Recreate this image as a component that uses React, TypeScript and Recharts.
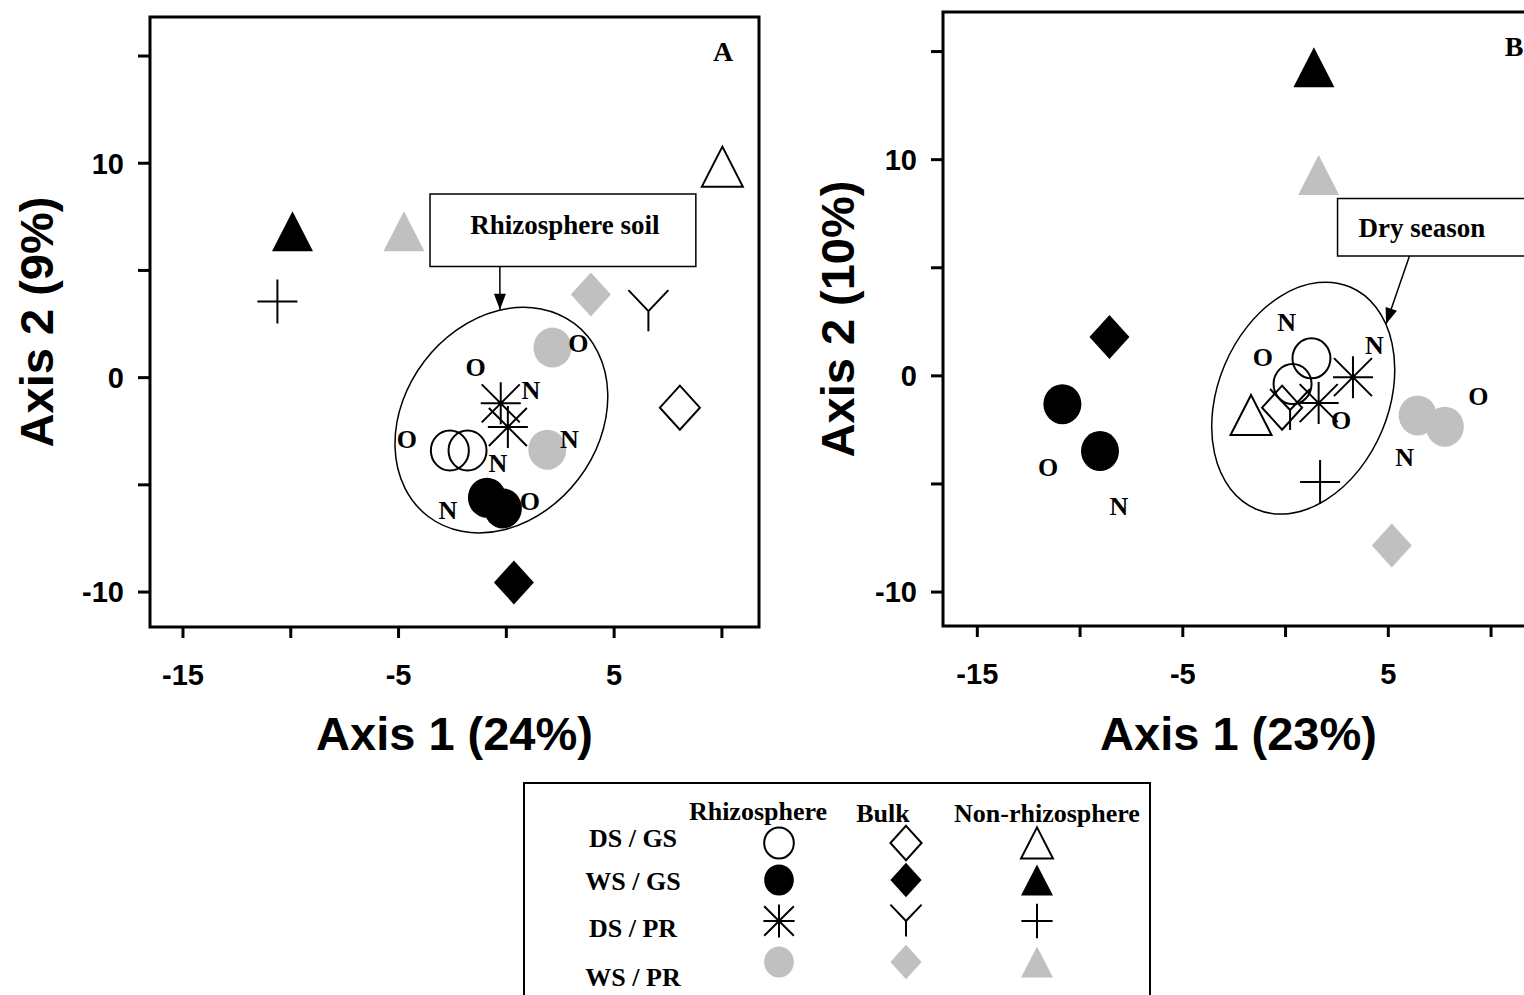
import React from 'react';
import { ScatterChart, Scatter, XAxis, YAxis, ReferenceArea, ReferenceLine, ReferenceDot } from 'recharts';

type Pt = { x: number; y: number };
type Lbl = { x: number; y: number; t: string };

const GREY = '#c0c0c0';
const SERIF = '"Liberation Serif", "Times New Roman", serif';
const SANS = '"Liberation Sans", Arial, sans-serif';

// ticks
const xTicks = [-15, -10, -5, 0, 5, 10];
const xTickLabelled = [-15, -5, 5];
const yTicks = [-10, -5, 0, 5, 10, 15];
const yTickLabelled = [-10, 0, 10];

// legend
const legendRows = ['DS / GS', 'WS / GS', 'DS / PR', 'WS / PR'];
const legendCols = ['Rhizosphere', 'Bulk', 'Non-rhizosphere'];
const rowStyles = ['open', 'black', 'line', 'grey'];
const rowKinds = [
  ['circle', 'diamond', 'triangle'],
  ['circle', 'diamond', 'triangle'],
  ['asterisk', 'yshape', 'plus'],
  ['circle', 'diamond', 'triangle'],
];

// ---------- Panel A (Axis 1 24%, Axis 2 9%) ----------
const aDsGsRhizo: Pt[] = [{ x: -2.62, y: -3.4 }, { x: -1.8, y: -3.4 }];
const aWsGsRhizo: Pt[] = [{ x: -0.9, y: -5.6 }, { x: -0.16, y: -6.1 }];
const aDsPrRhizo: Pt[] = [{ x: -0.26, y: -1.2 }, { x: 0.07, y: -2.3 }];
const aWsPrRhizo: Pt[] = [{ x: 2.14, y: 1.4 }, { x: 1.9, y: -3.36 }];
const aDsGsBulk: Pt[] = [{ x: 8.05, y: -1.4 }];
const aWsGsBulk: Pt[] = [{ x: 0.35, y: -9.55 }];
const aDsPrBulk: Pt[] = [{ x: 6.59, y: 3.1 }];
const aWsPrBulk: Pt[] = [{ x: 3.92, y: 3.88 }];
const aDsGsNon: Pt[] = [{ x: 10.02, y: 9.84 }];
const aWsGsNon: Pt[] = [{ x: -9.92, y: 6.83 }];
const aDsPrNon: Pt[] = [{ x: -10.62, y: 3.55 }];
const aWsPrNon: Pt[] = [{ x: -4.75, y: 6.83 }];
const aLabels: Lbl[] = [
  { x: -1.43, y: 0.49, t: 'O' },
  { x: 1.14, y: -0.61, t: 'N' },
  { x: -4.61, y: -2.89, t: 'O' },
  { x: -0.39, y: -4.01, t: 'N' },
  { x: 2.93, y: -2.86, t: 'N' },
  { x: 3.34, y: 1.61, t: 'O' },
  { x: -2.71, y: -6.18, t: 'N' },
  { x: 1.09, y: -5.76, t: 'O' },
];
const aTag: Lbl = { x: 10.05, y: 15.2, t: 'A' };
const aEllipse = { x: -0.23, y: -1.98 };
const aCallout = { x1: -3.54, x2: 8.79, y1: 8.56, y2: 5.18, text: 'Rhizosphere soil' };
const aArrow = { x1: -0.3, y1: 5.18, x2: -0.3, y2: 3.17 };

// ---------- Panel B (Axis 1 23%, Axis 2 10%) ----------
const bDsGsRhizo: Pt[] = [{ x: 1.26, y: 0.81 }, { x: 0.34, y: -0.38 }];
const bWsGsRhizo: Pt[] = [{ x: -10.86, y: -1.31 }, { x: -9.03, y: -3.48 }];
const bDsPrRhizo: Pt[] = [{ x: 1.61, y: -1.26 }, { x: 3.28, y: -0.06 }];
const bWsPrRhizo: Pt[] = [{ x: 6.43, y: -1.83 }, { x: 7.75, y: -2.35 }];
const bDsGsBulk: Pt[] = [{ x: -0.17, y: -1.47 }];
const bWsGsBulk: Pt[] = [{ x: -8.57, y: 1.8 }];
const bDsPrBulk: Pt[] = [{ x: 0.22, y: -1.58 }];
const bWsPrBulk: Pt[] = [{ x: 5.17, y: -7.85 }];
const bDsGsNon: Pt[] = [{ x: -1.68, y: -1.81 }];
const bWsGsNon: Pt[] = [{ x: 1.38, y: 14.27 }];
const bDsPrNon: Pt[] = [{ x: 1.68, y: -4.91 }];
const bWsPrNon: Pt[] = [{ x: 1.61, y: 9.29 }];
const bLabels: Lbl[] = [
  { x: 0.05, y: 2.47, t: 'N' },
  { x: -1.1, y: 0.87, t: 'O' },
  { x: 4.32, y: 1.43, t: 'N' },
  { x: 2.7, y: -2.04, t: 'O' },
  { x: 9.38, y: -0.93, t: 'O' },
  { x: 5.8, y: -3.76, t: 'N' },
  { x: -11.56, y: -4.22, t: 'O' },
  { x: -8.11, y: -6.05, t: 'N' },
];
const bTag: Lbl = { x: 11.12, y: 15.21, t: 'B' };
const bEllipse = { x: 0.86, y: -1.03 };
const bCallout = { x1: 2.53, x2: 12.09, y1: 8.2, y2: 5.54, text: 'Dry season' };
const bArrow = { x1: 6.03, y1: 5.54, x2: 4.89, y2: 2.4 };

const aGroups: Pt[][][] = [
  [aDsGsRhizo, aDsGsBulk, aDsGsNon],
  [aWsGsRhizo, aWsGsBulk, aWsGsNon],
  [aDsPrRhizo, aDsPrBulk, aDsPrNon],
  [aWsPrRhizo, aWsPrBulk, aWsPrNon],
];
const bGroups: Pt[][][] = [
  [bDsGsRhizo, bDsGsBulk, bDsGsNon],
  [bWsGsRhizo, bWsGsBulk, bWsGsNon],
  [bDsPrRhizo, bDsPrBulk, bDsPrNon],
  [bWsPrRhizo, bWsPrBulk, bWsPrNon],
];

const Marker = ({ kind, style, cx, cy, s = 1 }: any) => {
  if (cx == null || cy == null) return null;
  const open = style === 'open';
  const line = style === 'line';
  const color = style === 'black' ? '#000' : style === 'grey' ? GREY : 'none';
  const fill = open || line ? 'none' : color;
  const stroke = open || line ? '#000' : 'none';
  const sw = 2;
  switch (kind) {
    case 'circle':
      return <ellipse cx={cx} cy={cy} rx={19 * s} ry={20 * s} fill={fill} stroke={stroke} strokeWidth={sw} />;
    case 'diamond':
      return (
        <polygon
          points={`${cx},${cy - 22 * s} ${cx + 20 * s},${cy} ${cx},${cy + 22 * s} ${cx - 20 * s},${cy}`}
          fill={fill}
          stroke={stroke}
          strokeWidth={sw}
          strokeLinejoin="miter"
        />
      );
    case 'triangle':
      return (
        <polygon
          points={`${cx},${cy - 20 * s} ${cx + 20.5 * s},${cy + 20 * s} ${cx - 20.5 * s},${cy + 20 * s}`}
          fill={fill}
          stroke={stroke}
          strokeWidth={sw}
        />
      );
    case 'asterisk':
      return (
        <path
          d={`M${cx - 20 * s},${cy}H${cx + 20 * s}M${cx},${cy - 21 * s}V${cy + 21 * s}M${cx - 19 * s},${cy - 19 * s}L${cx + 19 * s},${cy + 19 * s}M${cx - 19 * s},${cy + 19 * s}L${cx + 19 * s},${cy - 19 * s}`}
          stroke="#000"
          strokeWidth={sw}
          fill="none"
        />
      );
    case 'yshape':
      return (
        <path
          d={`M${cx - 20 * s},${cy - 21 * s}L${cx},${cy}L${cx + 20 * s},${cy - 21 * s}M${cx},${cy}V${cy + 20 * s}`}
          stroke="#000"
          strokeWidth={sw}
          fill="none"
        />
      );
    case 'plus':
      return (
        <path
          d={`M${cx - 20 * s},${cy}H${cx + 20 * s}M${cx},${cy - 22 * s}V${cy + 22 * s}`}
          stroke="#000"
          strokeWidth={sw}
          fill="none"
        />
      );
    default:
      return null;
  }
};

const XTitle = ({ viewBox, text, by }: any) => {
  if (!viewBox) return null;
  return (
    <text
      x={viewBox.x + viewBox.width / 2}
      y={viewBox.y + by}
      textAnchor="middle"
      fontFamily={SANS}
      fontWeight={700}
      fontSize={47}
      fill="#000"
    >
      {text}
    </text>
  );
};

const YTitle = ({ viewBox, text, bx }: any) => {
  if (!viewBox) return null;
  const cy = viewBox.y + viewBox.height / 2;
  const x = viewBox.x + bx;
  return (
    <text
      x={x}
      y={cy}
      transform={`rotate(-90 ${x} ${cy})`}
      textAnchor="middle"
      fontFamily={SANS}
      fontWeight={700}
      fontSize={47}
      fill="#000"
    >
      {text}
    </text>
  );
};

const CalloutText = ({ viewBox, text, anchor, dx, cyOff }: any) => {
  if (!viewBox) return null;
  const x = anchor === 'middle' ? viewBox.x + viewBox.width / 2 + dx : viewBox.x + dx;
  const y = viewBox.y + cyOff;
  return (
    <text x={x} y={y} dy="0.33em" textAnchor={anchor} fontFamily={SERIF} fontWeight={700} fontSize={27} fill="#000">
      {text}
    </text>
  );
};

const labelShape = (size: number) => (p: any) => {
  if (p.cx == null) return null;
  const t = (p.payload && p.payload.t) || p.t;
  return (
    <text x={p.cx} y={p.cy} dy="0.33em" textAnchor="middle" fontFamily={SERIF} fontWeight={700} fontSize={size} fill="#000">
      {t}
    </text>
  );
};

type PanelProps = {
  left: number;
  width: number;
  height: number;
  marginTop: number;
  marginRight: number;
  yAxisWidth: number;
  xDomain: [number, number];
  yDomain: [number, number];
  groups: Pt[][][];
  labels: Lbl[];
  tag: Lbl;
  xTitle: string;
  yTitle: string;
  yTitleX: number;
  xTitleY: number;
  ellipse: { x: number; y: number };
  ellipseR: [number, number, number];
  callout: { x1: number; x2: number; y1: number; y2: number; text: string };
  calloutAnchor: string;
  calloutDx: number;
  calloutCy: number;
  arrow: { x1: number; y1: number; x2: number; y2: number };
  arrowAngle: number;
};

const Panel = (P: PanelProps) => {
  const [rx, ry, rot] = P.ellipseR;
  return (
    <div style={{ position: 'absolute', left: P.left, top: 0 }}>
      <ScatterChart
        width={P.width}
        height={P.height}
        margin={{ top: P.marginTop, right: P.marginRight, bottom: 0, left: 0 }}
      >
        <XAxis
          type="number"
          dataKey="x"
          domain={P.xDomain}
          allowDataOverflow
          ticks={xTicks}
          interval={0}
          tickFormatter={(v: number) => (xTickLabelled.includes(v) ? String(v) : '')}
          tickSize={11}
          tickMargin={26}
          axisLine={false}
          tickLine={{ stroke: '#000', strokeWidth: 3 }}
          tick={{ fill: '#000', fontSize: 29, fontWeight: 700, fontFamily: SANS }}
          height={143}
          label={<XTitle text={P.xTitle} by={P.xTitleY} />}
        />
        <YAxis
          type="number"
          dataKey="y"
          domain={P.yDomain}
          allowDataOverflow
          ticks={yTicks}
          interval={0}
          tickFormatter={(v: number) => (yTickLabelled.includes(v) ? String(v) : '')}
          tickSize={12}
          tickMargin={14}
          axisLine={false}
          tickLine={{ stroke: '#000', strokeWidth: 3 }}
          tick={{ fill: '#000', fontSize: 29, fontWeight: 700, fontFamily: SANS }}
          width={P.yAxisWidth}
          label={<YTitle text={P.yTitle} bx={P.yTitleX} />}
        />
        <ReferenceDot
          x={P.ellipse.x}
          y={P.ellipse.y}
          r={0}
          shape={(p: any) => (
            <ellipse
              cx={p.cx}
              cy={p.cy}
              rx={rx}
              ry={ry}
              transform={`rotate(${rot} ${p.cx} ${p.cy})`}
              fill="none"
              stroke="#000"
              strokeWidth={1.5}
            />
          )}
        />
        {P.groups.map((row, ri) =>
          row.map((data, ci) => (
            <Scatter
              key={`s-${ri}-${ci}`}
              data={data}
              isAnimationActive={false}
              shape={(p: any) => <Marker kind={rowKinds[ri][ci]} style={rowStyles[ri]} cx={p.cx} cy={p.cy} />}
            />
          ))
        )}
        <Scatter data={P.labels} isAnimationActive={false} shape={labelShape(26)} />
        <Scatter data={[P.tag]} isAnimationActive={false} shape={labelShape(28)} />
        <ReferenceArea
          x1={P.callout.x1}
          x2={P.callout.x2}
          y1={P.callout.y1}
          y2={P.callout.y2}
          fill="#fff"
          fillOpacity={1}
          stroke="#000"
          strokeWidth={1.5}
          ifOverflow="visible"
          label={<CalloutText text={P.callout.text} anchor={P.calloutAnchor} dx={P.calloutDx} cyOff={P.calloutCy} />}
        />
        <ReferenceLine
          segment={[
            { x: P.arrow.x1, y: P.arrow.y1 },
            { x: P.arrow.x2, y: P.arrow.y2 },
          ]}
          stroke="#000"
          strokeWidth={1.5}
        />
        <ReferenceDot
          x={P.arrow.x2}
          y={P.arrow.y2}
          r={0}
          shape={(p: any) => (
            <polygon
              points="0,0 -16,-6 -16,6"
              transform={`translate(${p.cx} ${p.cy}) rotate(${P.arrowAngle})`}
              fill="#000"
            />
          )}
        />
        <ReferenceArea
          x1={P.xDomain[0]}
          x2={P.xDomain[1]}
          y1={P.yDomain[0]}
          y2={P.yDomain[1]}
          fill="none"
          stroke="#000"
          strokeWidth={3}
          ifOverflow="visible"
        />
      </ScatterChart>
    </div>
  );
};

const legendX = [256, 383, 514];
const legendSymY = [61, 98, 139, 180];
const legendRowY = [65, 108, 155, 204];
const legendHeadX = [235, 360, 524];
const legendHeadY = [38, 40, 40];

const LegendBox = () => (
  <svg style={{ position: 'absolute', left: 523, top: 782 }} width={640} height={220}>
    <rect x={1} y={1} width={626} height={300} fill="#fff" stroke="#000" strokeWidth={2} />
    {legendCols.map((c, i) => (
      <text key={c} x={legendHeadX[i]} y={legendHeadY[i]} textAnchor="middle" fontFamily={SERIF} fontWeight={700} fontSize={26} fill="#000">
        {c}
      </text>
    ))}
    {legendRows.map((r, ri) => (
      <g key={r}>
        <text x={110} y={legendRowY[ri]} textAnchor="middle" fontFamily={SERIF} fontWeight={700} fontSize={26} fill="#000">
          {r}
        </text>
        {legendCols.map((c, ci) => (
          <Marker key={c} kind={rowKinds[ri][ci]} style={rowStyles[ri]} cx={legendX[ci]} cy={legendSymY[ri]} s={0.78} />
        ))}
      </g>
    ))}
  </svg>
);

export default function App() {
  return (
    <div
      style={{
        position: 'absolute',
        left: 0,
        top: 0,
        width: 1524,
        height: 995,
        overflow: 'hidden',
        background: '#fff',
      }}
    >
      <Panel
        left={0}
        width={780}
        height={770}
        marginTop={17}
        marginRight={21}
        yAxisWidth={150}
        xDomain={[-16.53, 11.72]}
        yDomain={[-11.63, 16.82]}
        groups={aGroups}
        labels={aLabels}
        tag={aTag}
        xTitle="Axis 1 (24%)"
        yTitle="Axis 2 (9%)"
        yTitleX={53}
        xTitleY={123}
        ellipse={aEllipse}
        ellipseR={[121, 97, -52.8]}
        callout={aCallout}
        calloutAnchor="middle"
        calloutDx={2}
        calloutCy={31}
        arrow={aArrow}
        arrowAngle={90}
      />
      <Panel
        left={780}
        width={760}
        height={769}
        marginTop={12}
        marginRight={6}
        yAxisWidth={163}
        xDomain={[-16.67, 12.09]}
        yDomain={[-11.57, 16.83]}
        groups={bGroups}
        labels={bLabels}
        tag={bTag}
        xTitle="Axis 1 (23%)"
        yTitle="Axis 2 (10%)"
        yTitleX={74}
        xTitleY={124}
        ellipse={bEllipse}
        ellipseR={[120.6, 85.3, -67.1]}
        callout={bCallout}
        calloutAnchor="start"
        calloutDx={21}
        calloutCy={30}
        arrow={bArrow}
        arrowAngle={109.2}
      />
      <LegendBox />
    </div>
  );
}
